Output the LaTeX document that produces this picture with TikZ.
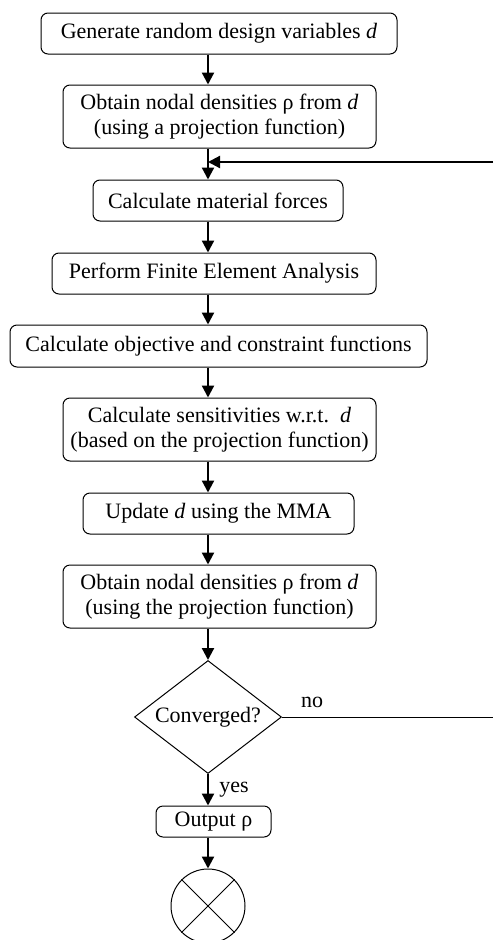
\documentclass[tikz,border=0pt]{standalone}
\usepackage{fontspec}
\setmainfont{Liberation Serif}
\usetikzlibrary{arrows.meta,shapes.geometric}

\begin{document}
\begin{tikzpicture}[x=1pt,y=-1pt,
  every node/.style={font=\fontsize{22}{25}\selectfont},
  box/.style={draw, line width=1pt, rounded corners=7pt, align=center, inner sep=0pt},
  decision/.style={draw, line width=1pt, shape=diamond, shape aspect=1.5, inner sep=0pt},
  stopmark/.style={draw, line width=1pt, shape=circle, inner sep=0pt, minimum size=74pt},
  arr/.style={line width=2.2pt, -{Triangle[length=12pt,width=12pt]}},
  thinline/.style={line width=1pt}
]
\useasboundingbox (0,0) rectangle (493,940);

% process steps
\node[box, minimum width=356pt, minimum height=41pt] (b1) at (219,33.5)
  {Generate random design variables \textit{d}};
\node[box, minimum width=313pt, minimum height=63pt] (b2) at (219.5,116.5)
  {Obtain nodal densities ρ from \textit{d}\\(using a projection function)};
\node[box, minimum width=250pt, minimum height=41pt] (b3) at (218,200.5)
  {Calculate material forces};
\node[box, minimum width=324pt, minimum height=41pt] (b4) at (214,273.5)
  {Perform Finite Element Analysis};
\node[box, minimum width=417pt, minimum height=42pt] (b5) at (218.5,346)
  {Calculate objective and constraint functions};
\node[box, minimum width=313pt, minimum height=63pt] (b6) at (219.5,429.5)
  {Calculate sensitivities w.r.t.\ \ \textit{d}\\(based on the projection function)};
\node[box, minimum width=271pt, minimum height=41pt] (b7) at (218.5,513.5)
  {Update \textit{d} using the MMA};
\node[box, minimum width=313pt, minimum height=63pt] (b8) at (219.5,596.5)
  {Obtain nodal densities ρ from \textit{d}\\(using the projection function)};

% convergence test and end
\node[decision, minimum width=147pt, minimum height=113pt] (dia) at (208,717) {Converged?};
\node[box, minimum width=115pt, minimum height=31pt] (out) at (213.5,821.5) {Output ρ};
\node[stopmark] (end) at (208,906) {};
\draw[thinline] (end.north west) -- (end.south east);
\draw[thinline] (end.north east) -- (end.south west);

% main flow
\draw[arr] (b1.south -| dia.north) -- (b2.north -| dia.north);
\draw[arr] (b2.south -| dia.north) -- (b3.north -| dia.north);
\draw[arr] (b3.south -| dia.north) -- (b4.north -| dia.north);
\draw[arr] (b4.south -| dia.north) -- (b5.north -| dia.north);
\draw[arr] (b5.south -| dia.north) -- (b6.north -| dia.north);
\draw[arr] (b6.south -| dia.north) -- (b7.north -| dia.north);
\draw[arr] (b7.south -| dia.north) -- (b8.north -| dia.north);
\draw[arr] (b8.south -| dia.north) -- (dia.north);
\draw[arr] (dia.south) -- (out.north -| dia.south)
  node[midway, right=7pt] {yes};
\draw[arr] (out.south -| end.north) -- (end.north);

% loop back
\coordinate (noend) at (493,717);
\coordinate (loopin) at (493,162);
\draw[thinline] (dia.east) -- (noend);
\node at (312,702) {no};
\draw[arr] (loopin) -- (loopin -| dia.north);
\end{tikzpicture}
\end{document}
